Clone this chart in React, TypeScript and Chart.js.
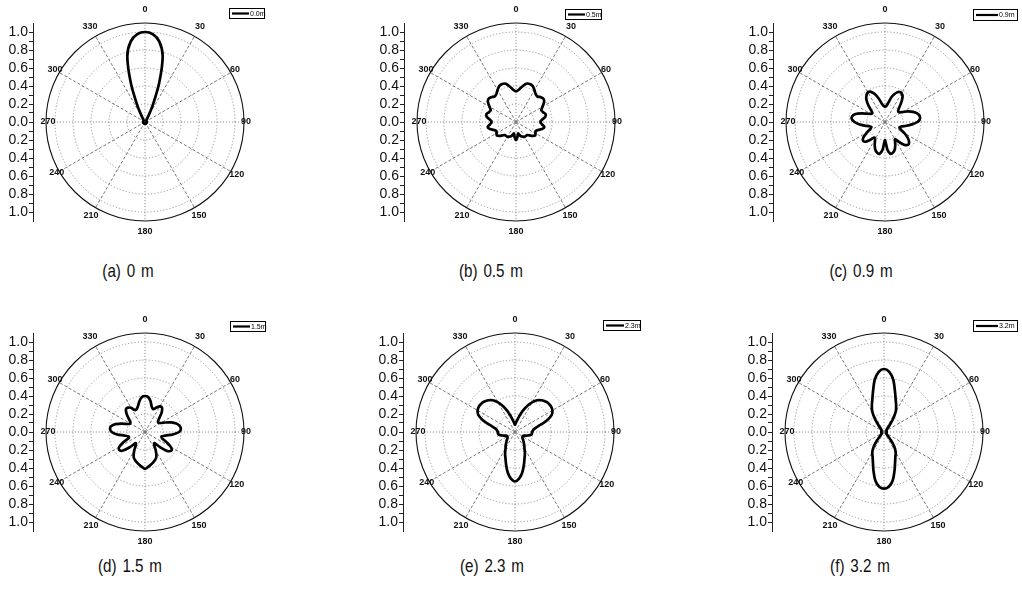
import React, { useEffect, useRef } from 'react';
import { Chart, registerables } from 'chart.js';

Chart.register(...registerables);
Chart.defaults.font.family = '"Liberation Sans", Arial, sans-serif';

// Angle categories (degrees, clockwise from top), 5 degree steps
const ANGLES = [
  0, 5, 10, 15, 20, 25, 30, 35, 40, 45, 50, 55,
  60, 65, 70, 75, 80, 85, 90, 95, 100, 105, 110, 115,
  120, 125, 130, 135, 140, 145, 150, 155, 160, 165, 170, 175,
  180, 185, 190, 195, 200, 205, 210, 215, 220, 225, 230, 235,
  240, 245, 250, 255, 260, 265, 270, 275, 280, 285, 290, 295,
  300, 305, 310, 315, 320, 325, 330, 335, 340, 345, 350, 355,
];

// Angle tick labels shown around each polar plot
const ANGLE_TICKS = [0, 30, 60, 90, 120, 150, 180, 210, 240, 270, 300, 330];

// Radial rings and left-axis ticks
const RINGS = [0, 0.2, 0.4, 0.6, 0.8, 1.0, 1.1];
const Y_TICKS = [
  -1.0, -0.9, -0.8, -0.7, -0.6, -0.5, -0.4, -0.3, -0.2, -0.1, 0,
  0.1, 0.2, 0.3, 0.4, 0.5, 0.6, 0.7, 0.8, 0.9, 1.0,
];

// Series values (normalised magnitude at each angle)
const R_00 = [
  1.00, 0.98, 0.91, 0.76, 0.46, 0.20, 0.07, 0.03, 0.02, 0.02, 0.02, 0.02,
  0.02, 0.02, 0.02, 0.02, 0.02, 0.02, 0.02, 0.02, 0.02, 0.02, 0.02, 0.02,
  0.02, 0.02, 0.02, 0.02, 0.02, 0.02, 0.02, 0.02, 0.02, 0.02, 0.02, 0.02,
  0.02, 0.02, 0.02, 0.02, 0.02, 0.02, 0.02, 0.02, 0.02, 0.02, 0.02, 0.02,
  0.02, 0.02, 0.02, 0.02, 0.02, 0.02, 0.02, 0.02, 0.02, 0.02, 0.02, 0.02,
  0.02, 0.02, 0.02, 0.02, 0.02, 0.03, 0.07, 0.20, 0.46, 0.76, 0.91, 0.98,
];
const R_05 = [
  0.34, 0.36, 0.40, 0.44, 0.45, 0.44, 0.41, 0.38, 0.37, 0.39, 0.40, 0.38,
  0.34, 0.31, 0.32, 0.34, 0.33, 0.29, 0.27, 0.29, 0.32, 0.30, 0.26, 0.24,
  0.25, 0.26, 0.24, 0.21, 0.19, 0.19, 0.19, 0.18, 0.17, 0.15, 0.13, 0.17,
  0.20, 0.17, 0.13, 0.15, 0.17, 0.18, 0.19, 0.19, 0.19, 0.21, 0.24, 0.26,
  0.25, 0.24, 0.26, 0.30, 0.32, 0.29, 0.27, 0.29, 0.33, 0.34, 0.32, 0.31,
  0.34, 0.38, 0.40, 0.39, 0.37, 0.38, 0.41, 0.44, 0.45, 0.44, 0.40, 0.36,
];
const R_09 = [
  0.17, 0.18, 0.22, 0.29, 0.34, 0.37, 0.37, 0.34, 0.28, 0.22, 0.19, 0.19,
  0.22, 0.28, 0.33, 0.37, 0.39, 0.39, 0.36, 0.30, 0.24, 0.19, 0.17, 0.19,
  0.25, 0.31, 0.35, 0.36, 0.33, 0.27, 0.22, 0.27, 0.32, 0.35, 0.36, 0.31,
  0.20, 0.31, 0.36, 0.35, 0.32, 0.27, 0.22, 0.21, 0.26, 0.31, 0.32, 0.29,
  0.23, 0.18, 0.16, 0.18, 0.23, 0.29, 0.34, 0.37, 0.37, 0.34, 0.28, 0.22,
  0.18, 0.17, 0.20, 0.26, 0.32, 0.36, 0.38, 0.37, 0.33, 0.27, 0.21, 0.18,
];
const R_15 = [
  0.40, 0.39, 0.35, 0.29, 0.27, 0.30, 0.33, 0.33, 0.29, 0.23, 0.19, 0.18,
  0.20, 0.25, 0.31, 0.36, 0.39, 0.40, 0.38, 0.31, 0.23, 0.19, 0.20, 0.26,
  0.33, 0.36, 0.33, 0.24, 0.16, 0.18, 0.24, 0.30, 0.33, 0.35, 0.37, 0.39,
  0.41, 0.39, 0.37, 0.35, 0.33, 0.30, 0.24, 0.18, 0.16, 0.24, 0.32, 0.35,
  0.33, 0.26, 0.19, 0.19, 0.23, 0.31, 0.37, 0.39, 0.38, 0.34, 0.27, 0.21,
  0.19, 0.20, 0.24, 0.29, 0.33, 0.33, 0.31, 0.27, 0.27, 0.30, 0.35, 0.39,
];
const R_23 = [
  0.08, 0.10, 0.13, 0.18, 0.25, 0.32, 0.38, 0.43, 0.46, 0.48, 0.49, 0.49,
  0.48, 0.45, 0.38, 0.28, 0.22, 0.20, 0.19, 0.19, 0.18, 0.15, 0.12, 0.10,
  0.10, 0.10, 0.11, 0.13, 0.15, 0.18, 0.21, 0.26, 0.31, 0.38, 0.46, 0.52,
  0.55, 0.52, 0.46, 0.38, 0.31, 0.26, 0.21, 0.18, 0.15, 0.13, 0.11, 0.10,
  0.10, 0.10, 0.12, 0.15, 0.18, 0.19, 0.19, 0.20, 0.22, 0.28, 0.38, 0.45,
  0.48, 0.49, 0.49, 0.48, 0.46, 0.43, 0.38, 0.32, 0.25, 0.18, 0.13, 0.10,
];
const R_32 = [
  0.70, 0.67, 0.59, 0.47, 0.38, 0.32, 0.26, 0.17, 0.09, 0.05, 0.04, 0.03,
  0.03, 0.03, 0.03, 0.03, 0.03, 0.03, 0.03, 0.03, 0.03, 0.03, 0.03, 0.03,
  0.03, 0.03, 0.04, 0.06, 0.12, 0.20, 0.26, 0.30, 0.36, 0.45, 0.55, 0.61,
  0.63, 0.61, 0.55, 0.45, 0.36, 0.30, 0.26, 0.20, 0.12, 0.06, 0.04, 0.03,
  0.03, 0.03, 0.03, 0.03, 0.03, 0.03, 0.03, 0.03, 0.03, 0.03, 0.03, 0.03,
  0.03, 0.03, 0.04, 0.05, 0.09, 0.17, 0.26, 0.32, 0.38, 0.47, 0.59, 0.67,
];

const SERIES_NAMES = ['0.0m', '0.5m', '0.9m', '1.5m', '2.3m', '3.2m'];
const CAPTIONS = ['(a) 0 m', '(b) 0.5 m', '(c) 0.9 m', '(d) 1.5 m', '(e) 2.3 m', '(f) 3.2 m'];
const SERIES = [R_00, R_05, R_09, R_15, R_23, R_32];

// Layout (pixels) — kept apart from the data
const CANVAS_W = 282;
const CANVAS_H = 245;
const PANEL_POS = [
  { left: 0, top: 0 }, { left: 371, top: 0 }, { left: 740, top: 0 },
  { left: 0, top: 310 }, { left: 370, top: 310 }, { left: 739, top: 310 },
];
const LEGEND_BOX = [
  { x: 229, y: 8, w: 35, h: 10, line: 17 },
  { x: 194, y: 9, w: 36, h: 10, line: 17 },
  { x: 233, y: 9, w: 44, h: 11, line: 22 },
  { x: 230, y: 11, w: 35, h: 10, line: 17 },
  { x: 233, y: 10, w: 37, h: 10, line: 18 },
  { x: 234, y: 10, w: 44, h: 11, line: 22 },
];
const CAPTION_POS = [
  { x: 128, y: 271 }, { x: 491, y: 271 }, { x: 861, y: 271 },
  { x: 130, y: 566 }, { x: 492, y: 566 }, { x: 860, y: 566 },
];
const LABEL_DIST = [112, 110, 104, 101, 106, 108, 110, 108, 102, 97, 104, 110];

const angleTextPlugin = {
  id: 'angleText',
  afterDraw(chart: any) {
    const s = chart.scales.r;
    const ctx = chart.ctx;
    ctx.save();
    ctx.font = 'bold 9px "Liberation Sans", Arial, sans-serif';
    ctx.fillStyle = '#111';
    ctx.textAlign = 'center';
    ctx.textBaseline = 'middle';
    ANGLE_TICKS.forEach((a, i) => {
      const idx = ANGLES.indexOf(a);
      const p = s.getPointPosition(idx, LABEL_DIST[i]);
      ctx.fillText(String(a), p.x, p.y);
    });
    ctx.restore();
  },
};

const boxLegendPlugin = {
  id: 'boxLegend',
  afterDraw(chart: any, _args: any, opts: any) {
    const ctx = chart.ctx;
    const { x, y, w, h, line } = opts;
    const label = chart.data.datasets[0].label;
    ctx.save();
    ctx.fillStyle = '#fff';
    ctx.fillRect(x, y, w, h);
    ctx.strokeStyle = '#000';
    ctx.lineWidth = 1;
    ctx.strokeRect(x + 0.5, y + 0.5, w, h);
    ctx.beginPath();
    ctx.lineWidth = 2.2;
    ctx.moveTo(x + 3, y + h / 2 + 0.5);
    ctx.lineTo(x + 3 + line, y + h / 2 + 0.5);
    ctx.stroke();
    ctx.fillStyle = '#000';
    ctx.font = '7px "Liberation Sans", Arial, sans-serif';
    ctx.textBaseline = 'middle';
    ctx.textAlign = 'left';
    ctx.fillText(label, x + 4 + line, y + h / 2 + 1);
    ctx.restore();
  },
};

function PolarPanel({ i }: { i: number }) {
  const ref = useRef<HTMLCanvasElement>(null);
  useEffect(() => {
    const isOuter = (c: any) => c.tick && c.tick.value > 1.05;
    const chart = new Chart(ref.current as HTMLCanvasElement, {
      type: 'radar',
      data: {
        labels: ANGLES,
        datasets: [
          {
            label: SERIES_NAMES[i],
            data: SERIES[i],
            borderColor: '#000',
            backgroundColor: 'transparent',
            borderWidth: 2.7,
            pointRadius: 0,
            pointHoverRadius: 0,
            fill: false,
            tension: 0.3,
            borderJoinStyle: 'round',
          } as any,
        ],
      },
      options: {
        responsive: false,
        animation: false,
        events: [],
        layout: { padding: { left: 5, right: 25, top: 23, bottom: 24 } },
        scales: {
          r: {
            min: 0,
            max: 1.1,
            afterBuildTicks: (s: any) => {
              s.ticks = RINGS.map((v) => ({ value: v }));
            },
            ticks: { display: false },
            pointLabels: { display: false },
            grid: {
              circular: true,
              color: (c: any) => (isOuter(c) ? '#111' : '#8c8c8c'),
              lineWidth: (c: any) => (isOuter(c) ? 1.1 : 0.9),
            },
            border: { dash: (c: any) => (isOuter(c) ? [] : [1.2, 2]) } as any,
            angleLines: {
              color: (c: any) => (c.index % 18 === 0 ? '#888' : '#666'),
              lineWidth: (c: any) => (c.index % 6 === 0 ? 0.9 : 0),
              borderDash: (c: any) => (c.index % 18 === 0 ? [1.2, 1.8] : [3, 2]),
            } as any,
          } as any,
          y: {
            type: 'linear',
            position: 'left',
            min: -1.1,
            max: 1.1,
            afterBuildTicks: (s: any) => {
              s.ticks = Y_TICKS.map((v) => ({ value: v }));
            },
            afterFit: (s: any) => {
              s.width = 28;
            },
            grid: { drawOnChartArea: false, drawTicks: true, tickLength: 4, tickColor: '#222', tickWidth: 1 },
            border: { display: true, color: '#222', width: 1 },
            ticks: {
              autoSkip: false,
              padding: 1,
              color: '#111',
              font: { size: 14 },
              callback: (v: any) => {
                const t = Math.round(Math.abs(Number(v)) * 10);
                return t % 2 === 0 ? (t / 10).toFixed(1) : '';
              },
            },
          } as any,
        },
        plugins: {
          legend: { display: false },
          tooltip: { enabled: false },
          boxLegend: LEGEND_BOX[i],
        } as any,
      },
      plugins: [angleTextPlugin, boxLegendPlugin],
    });
    return () => chart.destroy();
  }, [i]);
  return (
    <canvas
      ref={ref}
      width={CANVAS_W}
      height={CANVAS_H}
      style={{ position: 'absolute', left: PANEL_POS[i].left, top: PANEL_POS[i].top, width: CANVAS_W, height: CANVAS_H }}
    />
  );
}

export default function App() {
  return (
    <div style={{ position: 'absolute', left: 0, top: 0, width: 1022, height: 592, background: '#fff', overflow: 'hidden' }}>
      {SERIES.map((_, i) => (
        <PolarPanel key={i} i={i} />
      ))}
      {CAPTIONS.map((c, i) => (
        <div
          key={'c' + i}
          style={{
            position: 'absolute',
            left: CAPTION_POS[i].x - 60,
            top: CAPTION_POS[i].y - 11,
            width: 120,
            height: 22,
            lineHeight: '22px',
            textAlign: 'center',
            fontFamily: '"Liberation Sans", Arial, sans-serif',
            fontSize: 19,
            wordSpacing: 2,
            color: '#111',
            whiteSpace: 'pre',
            transform: 'scaleX(0.8)',
          }}
        >
          {c}
        </div>
      ))}
    </div>
  );
}
